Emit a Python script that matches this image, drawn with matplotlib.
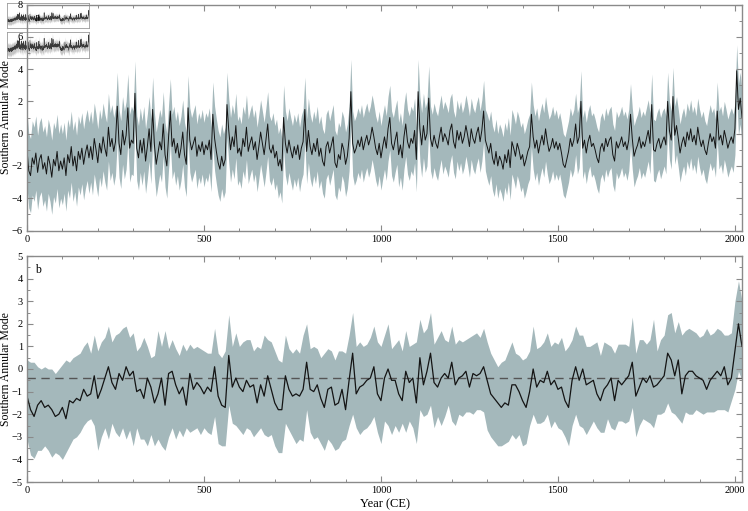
import numpy as np
import matplotlib
matplotlib.use("Agg")
import matplotlib.pyplot as plt
from matplotlib.ticker import MultipleLocator

plt.rcParams['font.family'] = ['Liberation Serif', 'DejaVu Serif']

# ---------------- data ----------------
# (a) annual SAM reconstruction, sampled every 5 years (0..2020 CE)
years_annual = np.arange(0, 2021, 5)
sam_annual = [
    -1.0, -2.3, -2.6, -1.5, -1.9, -1.2, -2.4, -1.6, -1.3, -2.2, -1.8, -2.5, -1.4, -1.9, -2.7, -1.6, -2.0, -1.1, -2.3, -1.7,
    -2.2, -1.5, -2.6, -1.3, -1.8, -0.8, -2.0, -1.4, -2.3, -1.1, -1.6, -0.9, -1.9, -1.2, -0.7, -1.5, -0.8, -1.6, -0.3, -1.0,
    -1.8, -0.6, -1.2, -0.2, -0.9, -1.4, 0.4, -0.8, -0.3, -1.1, -0.5, 1.7, -0.6, -1.3, 0.2, -0.7, -0.1, 1.6, -0.9, -0.4,
    -0.6, 2.5, -0.9, -1.5, -0.4, -1.2, -0.3, -1.7, -0.8, 0.3, -1.1, 1.5, -0.7, -1.9, -1.2, -0.5, -1.0, 0.6, -1.3, -2.0,
    -0.2, 1.4, -0.8, -0.3, -1.2, -0.6, -1.5, -0.9, 0.1, -1.3, -1.9, 1.6, -0.4, -1.0, -0.6, -0.2, -1.4, -0.7, -1.1, -0.5,
    -1.3, -0.7, -1.0, -0.4, -1.6, 1.2, -0.3, -1.1, -1.8, -2.2, -1.4, -2.0, -1.6, 1.8, 0.2, -1.0, -0.2, -0.8, 0.5, -1.2,
    -0.9, -1.4, -0.3, -0.8, 0.4, -1.1, -0.6, -0.2, -1.0, -0.5, -1.6, -0.8, 0.1, -0.6, -1.3, -0.4, 0.6, -0.9, -1.2, -0.7,
    -1.5, -1.1, -2.0, -1.6, -2.3, 1.0, -0.6, -1.2, -0.4, -1.0, -1.5, -0.8, -1.3, -0.7, -1.6, -0.9, -0.5, 1.5, -1.1, 0.2,
    -0.8, -1.3, -0.6, -1.1, -0.3, -1.4, -0.9, -1.7, -2.0, -0.8, -0.5, -1.2, -0.7, -0.2, -1.8, -2.1, -1.3, -1.6, -0.6, -1.0,
    -1.9, -1.4, -0.3, 2.6, -0.6, -1.2, -0.9, -0.4, -0.8, -0.2, -1.0, -0.5, -0.1, -0.7, -0.3, 0.4, -0.2, -0.9, -1.3, -0.6,
    -1.5, -0.8, -0.2, -0.9, 0.3, 1.0, -0.6, -1.0, -0.4, 0.1, -1.3, -0.7, -1.5, -0.2, 0.6, -0.5, -0.9, -0.3, -0.6, 0.2,
    -1.6, 2.6, 0.3, -0.7, 0.5, -0.4, 0.0, 2.2, -0.3, -0.8, -0.1, -0.6, -0.9, -0.2, 0.4, -0.5, 0.0, -0.3, -0.7, 0.2,
    0.6, -0.5, -0.9, 0.2, -0.4, 0.1, -0.6, -0.2, 0.5, -0.1, -0.8, 0.3, -0.3, -0.6, 0.0, 0.4, -0.5, 0.2, 1.4, -0.4,
    -0.8, -1.2, -0.6, -1.5, -1.9, -1.1, -2.0, -1.4, -1.7, -2.2, -1.3, -1.8, -1.0, -2.1, -0.5, -0.9, -1.4, -0.6, -1.0, -1.6,
    -1.3, -2.0, -1.6, -1.1, -0.8, 1.2, -0.2, -0.9, -0.4, -1.2, -0.6, -0.1, -0.7, 0.3, -0.5, -1.1, -0.8, -0.3, -0.9, -0.5,
    -1.0, -0.6, -1.2, -1.9, -2.1, -1.6, -1.1, -0.3, -0.8, -0.4, 0.6, -0.6, -0.2, 2.0, -0.9, -0.4, -1.2, -0.5, -0.1, -0.8,
    -0.6, -1.0, -1.5, -1.8, -0.9, -0.6, -1.1, -0.3, -0.8, -0.4, -0.2, -1.3, -1.7, -0.5, -0.9, -0.6, -0.2, -0.8, -0.5, -1.0,
    -0.4, 1.2, -0.3, -1.4, -1.0, -0.7, -0.2, -0.9, -0.5, -0.8, -0.3, 0.2, -0.6, 1.8, -1.0, -1.1, -0.6, -0.3, -0.9, -0.5,
    -0.2, -0.7, 2.0, 0.2, -0.4, 2.3, -0.1, 0.5, -0.3, -1.2, -0.6, -0.2, -0.8, 0.1, -0.4, 0.3, -0.5, -0.1, -0.7, 0.4,
    -0.3, -0.8, -0.4, -1.0, -1.3, -0.6, 0.0, -0.5, -0.2, -0.9, 1.4, -0.4, -0.1, -0.7, 0.2, -0.3, -0.9, -0.5, -0.2, -0.6,
    0.3, 3.9, 1.5, 2.2, 1.0,
]
# half-width of the uncertainty band in (a), one value per century (0..2000)
band_halfwidth_century = [2.3, 2.2, 2.1, 2.0, 2.0, 2.0, 2.0, 2.0, 2.0, 2.0, 2.0,
                          2.0, 1.9, 2.0, 2.0, 1.9, 1.9, 1.9, 1.8, 1.8, 1.6]

# (b) smoothed SAM reconstruction, every 10 years (0..2020 CE)
years_smooth = np.arange(0, 2021, 10)
sam_smooth = [
    -1.2, -1.8, -2.1, -1.6, -1.4, -1.7, -1.6, -1.8, -2.1, -2.0,
    -1.7, -2.2, -1.4, -1.5, -1.3, -1.4, -0.9, -1.2, -1.1, -0.3,
    -1.3, -0.9, -0.4, 0.1, -0.6, -0.9, -0.2, -0.5, 0.1, -0.3,
    -0.1, -1.0, -0.9, -1.3, -0.4, -0.8, -1.5, -1.1, -0.4, -1.6,
    -0.2, -0.1, -0.7, -1.1, -0.8, -1.6, -0.2, -0.9, -0.6, -0.8,
    -1.1, -0.8, -1.0, 0.1, -1.2, -1.6, -1.7, 0.6, -0.8, -0.4,
    -0.8, -1.0, -0.5, -0.8, -0.7, -1.5, -0.7, -1.2, -0.3, -0.9,
    -1.5, -1.8, -1.8, -0.3, -0.9, -1.2, -1.1, -1.2, -0.9, 0.3,
    -0.9, -1.0, -0.7, -1.3, -1.7, -0.9, -0.8, -1.6, -1.5, -0.9,
    -1.8, -0.5, 0.7, -1.1, -0.8, -0.7, -0.5, -0.4, 0.1, -1.1,
    -1.4, -0.4, 0.0, -0.5, -0.5, -1.1, -1.4, -0.1, -0.6, -0.4,
    -1.5, 0.5, -0.7, -0.1, 0.7, -0.6, -0.8, -0.4, -0.2, -0.4,
    0.3, -0.7, -0.4, -0.3, -0.1, -0.8, -0.2, -0.3, -0.2, 0.1,
    -0.5, -1.1, -1.3, -1.5, -1.7, -1.5, -1.6, -0.7, -0.7, -1.0,
    -1.4, -1.7, -1.0, 0.0, -0.8, -0.5, -0.6, -0.1, -0.7, -0.5,
    -0.9, -0.8, -1.4, -1.7, -0.5, 0.1, -0.5, 0.0, -0.7, -0.6,
    -0.5, -1.1, -1.4, -0.9, -0.7, -0.4, -1.4, -0.5, -0.7, -0.5,
    -0.3, 0.3, -1.2, -0.8, -0.4, -0.6, -0.3, -0.8, -0.7, -0.5,
    -0.3, 0.7, 0.4, -0.3, 0.4, -1.1, -0.3, -0.1, -0.1, -0.3,
    -0.4, -0.5, -0.9, -0.5, -0.3, -0.1, -0.3, 0.1, -0.7, -0.4,
    0.8, 2.0, 1.0,
]
smooth_upper = [
    0.4, 0.3, 0.3, 0.1, 0.0, 0.1, 0.0, 0.0, -0.2, 0.0,
    0.2, 0.4, 0.3, 0.5, 0.6, 0.7, 1.0, 1.2, 0.7, 1.5,
    0.8, 1.2, 1.4, 1.9, 1.2, 1.5, 1.6, 1.8, 1.9, 1.4,
    1.6, 0.8, 1.0, 1.4, 1.0, 0.5, 0.6, 1.7, 1.0, 1.7,
    0.9, 1.3, 0.9, 0.6, 1.1, 0.8, 1.1, 0.9, 1.0, 0.9,
    0.8, 0.7, 0.7, 1.8, 0.7, 0.5, 0.8, 2.4, 1.0, 1.6,
    1.0, 1.2, 1.3, 1.3, 0.8, 1.0, 0.9, 1.5, 1.3, 1.2,
    0.8, 0.4, 0.3, 1.5, 0.9, 0.7, 0.9, 0.7, 1.5, 2.0,
    0.9, 1.0, 0.9, 0.5, 0.7, 0.9, 0.8, 0.4, 0.8, 0.8,
    0.7, 1.5, 2.5, 1.0, 1.2, 1.0, 1.1, 1.4, 1.9, 1.2,
    1.0, 1.5, 2.0, 0.9, 1.1, 1.3, 0.8, 1.7, 1.0, 1.1,
    1.2, 2.2, 1.6, 1.8, 2.5, 1.1, 1.4, 1.7, 1.3, 1.2,
    1.9, 1.1, 1.3, 1.2, 1.3, 1.4, 1.5, 1.6, 1.4, 1.8,
    1.2, 0.7, 0.4, 0.1, 0.3, 0.4, 0.8, 1.2, 0.7, 0.6,
    0.4, 0.5, 0.8, 1.9, 0.9, 1.0, 1.2, 1.6, 1.0, 1.2,
    1.1, 1.4, 0.8, 1.0, 1.3, 1.9, 1.5, 1.5, 1.0, 1.0,
    1.1, 1.2, 0.6, 1.2, 1.1, 1.0, 0.7, 1.1, 1.1, 1.1,
    1.0, 2.3, 0.7, 1.3, 1.3, 1.1, 1.3, 2.2, 0.8, 1.3,
    1.5, 2.4, 2.5, 1.6, 2.1, 1.5, 1.7, 1.8, 1.7, 1.6,
    1.4, 1.5, 1.8, 1.5, 1.6, 1.8, 1.7, 1.5, 1.5, 1.6,
    3.0, 3.9, 3.0,
]
smooth_lower = [
    -3.1, -3.8, -3.95, -3.6, -3.6, -3.4, -3.6, -3.9, -3.7, -3.8,
    -4.0, -3.7, -3.4, -3.1, -3.0, -2.8, -2.5, -2.3, -2.2, -2.5,
    -3.6, -3.0, -2.6, -3.1, -2.4, -2.8, -3.0, -2.6, -3.1, -2.7,
    -3.4, -2.6, -3.1, -3.1, -3.4, -2.9, -3.4, -3.1, -3.4, -3.6,
    -3.0, -2.6, -3.1, -2.7, -3.0, -2.6, -2.8, -2.7, -2.6, -2.9,
    -2.6, -2.8, -2.9, -2.1, -3.3, -3.4, -3.4, -1.6, -2.4, -2.5,
    -2.7, -2.9, -2.6, -2.7, -3.0, -2.8, -2.6, -2.9, -3.0, -2.9,
    -3.4, -3.7, -3.7, -2.4, -2.7, -3.0, -3.3, -3.1, -3.2, -1.8,
    -2.8, -3.1, -3.0, -3.3, -3.6, -3.1, -3.3, -3.6, -3.5, -3.2,
    -3.1, -2.5, -2.0, -2.6, -2.9, -2.7, -2.6, -2.4, -2.1, -2.8,
    -3.3, -2.3, -2.5, -2.9, -2.5, -2.8, -2.4, -2.8, -2.3, -2.6,
    -3.3, -1.8, -2.1, -2.0, -1.6, -2.6, -2.1, -2.5, -2.1, -1.6,
    -2.3, -2.5, -2.0, -2.1, -1.9, -1.9, -2.0, -1.8, -1.8, -1.9,
    -2.7, -3.0, -3.2, -3.4, -3.4, -3.3, -3.2, -2.9, -3.1, -2.9,
    -3.4, -3.3, -2.5, -2.0, -2.4, -2.4, -2.3, -2.0, -2.6, -2.3,
    -2.6, -2.7, -3.0, -3.4, -2.5, -2.0, -2.5, -2.6, -2.9, -2.6,
    -2.3, -2.6, -2.8, -2.8, -2.2, -2.6, -2.7, -2.3, -2.3, -2.4,
    -2.3, -1.7, -3.0, -2.5, -2.2, -2.3, -2.4, -2.6, -2.0, -2.0,
    -1.9, -1.5, -1.9, -2.0, -2.2, -2.4, -1.9, -2.0, -2.0, -1.8,
    -1.9, -2.0, -1.9, -1.9, -1.9, -1.8, -1.8, -1.8, -1.9, -1.4,
    -0.9, -0.1, -0.5,
]
reference_mean = -0.4

x_ticks = [0, 500, 1000, 1500, 2000]
ylabel = "Southern Annular Mode"
xlabel = "Year (CE)"

# ---------------- styling ----------------
BAND = '#a4b8bb'
LINE = '#141414'
SPINE = '#8a8a8a'
W, H = 748, 511

fig = plt.figure(figsize=(W / 100, H / 100), dpi=100)
fig.patch.set_facecolor('white')


def px_axes(x0, y0, x1, y1, **kw):
    return fig.add_axes([x0 / W, 1 - y1 / H, (x1 - x0) / W, (y1 - y0) / H], **kw)


sam_annual = np.array(sam_annual)
hw = np.array(band_halfwidth_century)[years_annual // 100]
a_up = sam_annual + hw
a_lo = sam_annual - hw

# ---- thumbnail inset (top-left), drawn beneath the main axes ----
for (y0, y1, yl) in [(3, 28, (-6, 8)), (32, 58, (-5, 5))]:
    th = px_axes(7, y0, 89, y1, zorder=0)
    th.fill_between(years_annual, a_lo, a_up, color='#c4c4c4', lw=0)
    th.plot(years_annual, sam_annual, color='#3a3a3a', lw=0.4)
    th.set_xlim(0, 2020)
    th.set_ylim(*yl)
    th.set_xticks([])
    th.set_yticks([])
    for s in th.spines.values():
        s.set_color('#9a9a9a')
        s.set_linewidth(0.6)

# ---- main axes ----
ax1 = px_axes(27, 4.5, 742, 230.5, zorder=2)
ax2 = px_axes(27, 256, 742, 482, zorder=2)

ax1.fill_between(years_annual, a_lo, a_up, color=BAND, lw=0)
ax1.plot(years_annual, sam_annual, color=LINE, lw=0.7)
ax1.set_ylim(-6, 8)
ax1.yaxis.set_major_locator(MultipleLocator(2))
ax1.yaxis.set_minor_locator(MultipleLocator(1))

ax2.fill_between(years_smooth, smooth_lower, smooth_upper, color=BAND, lw=0)
ax2.axhline(reference_mean, color='#555555', lw=1.0, dashes=(6, 4))
ax2.plot(years_smooth, sam_smooth, color=LINE, lw=0.9)
ax2.set_ylim(-5, 5)
ax2.yaxis.set_major_locator(MultipleLocator(1))
ax2.yaxis.set_minor_locator(MultipleLocator(0.5))
ax2.set_xlabel(xlabel, fontsize=9, labelpad=2)

for ax, lab in [(ax1, 'a'), (ax2, 'b')]:
    ax.patch.set_alpha(0)
    ax.set_xlim(0, 2020)
    ax.set_xticks(x_ticks)
    ax.xaxis.set_minor_locator(MultipleLocator(100))
    ax.tick_params(which='both', direction='in', top=True, right=True,
                   color=SPINE, labelsize=7.5, pad=3)
    ax.tick_params(which='major', length=4, width=0.8)
    ax.tick_params(which='minor', length=2.5, width=0.7)
    for s in ax.spines.values():
        s.set_color(SPINE)
        s.set_linewidth(1.0)
    ax.set_ylabel(ylabel, fontsize=8.5)
    ax.yaxis.set_label_coords(-0.0215, 0.5)
    ax.text(0.011, 0.965, lab, transform=ax.transAxes, fontsize=8.5,
            ha='left', va='top')

fig.savefig('out.png', dpi=100)
